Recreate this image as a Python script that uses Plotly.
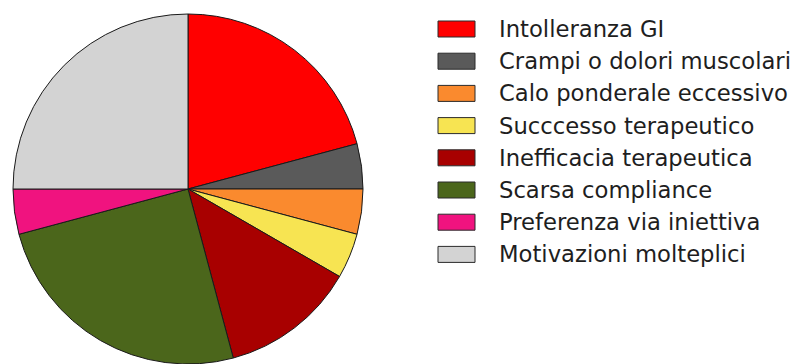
import plotly.graph_objects as go

# Motivazioni di sospensione (numero di pazienti)
labels = [
    "Intolleranza GI",
    "Crampi o dolori muscolari",
    "Calo ponderale eccessivo",
    "Succcesso terapeutico",
    "Inefficacia terapeutica",
    "Scarsa compliance",
    "Preferenza via iniettiva",
    "Motivazioni molteplici",
]
values = [5, 1, 1, 1, 3, 6, 1, 6]
colors = [
    "#FF0000",
    "#5A5A5A",
    "#FA8A2E",
    "#F7E452",
    "#A80000",
    "#4B661B",
    "#F0137F",
    "#D3D3D3",
]

W, H = 802, 364
cx, cy, r = 188, 189, 175  # pie centre (px from left/top) and radius

fig = go.Figure(
    go.Pie(
        labels=labels,
        values=values,
        sort=False,
        direction="clockwise",
        rotation=0,
        marker=dict(colors=colors, line=dict(color="#1a1a1a", width=1)),
        textinfo="none",
        hoverinfo="label+value+percent",
        showlegend=False,
        domain=dict(x=[(cx - r) / W, (cx + r) / W], y=[0, 2 * r / H]),
    )
)

# Legenda: riquadri colorati con etichette
shapes, annotations = [], []
sw_x0, sw_x1, sw_h = 438, 475, 16
row0, row_step = 29, 32.2
text_x = 497
for i, (lab, col) in enumerate(zip(labels, colors)):
    yc = row0 + row_step * i
    shapes.append(dict(
        type="rect", xref="paper", yref="paper",
        x0=sw_x0 / W, x1=sw_x1 / W,
        y0=1 - (yc + sw_h / 2) / H, y1=1 - (yc - sw_h / 2) / H,
        fillcolor=col, line=dict(color="#2a2a2a", width=1),
    ))
    annotations.append(dict(
        text=lab, xref="paper", yref="paper",
        x=text_x / W, y=1 - yc / H, xanchor="left", yanchor="middle",
        showarrow=False,
        font=dict(family="DejaVu Sans", size=22.7, color="#1e1e1e"),
    ))

fig.update_layout(
    width=W, height=H,
    margin=dict(l=0, r=0, t=0, b=0),
    paper_bgcolor="white", plot_bgcolor="white",
    shapes=shapes, annotations=annotations,
)

fig.write_html("out.html")
